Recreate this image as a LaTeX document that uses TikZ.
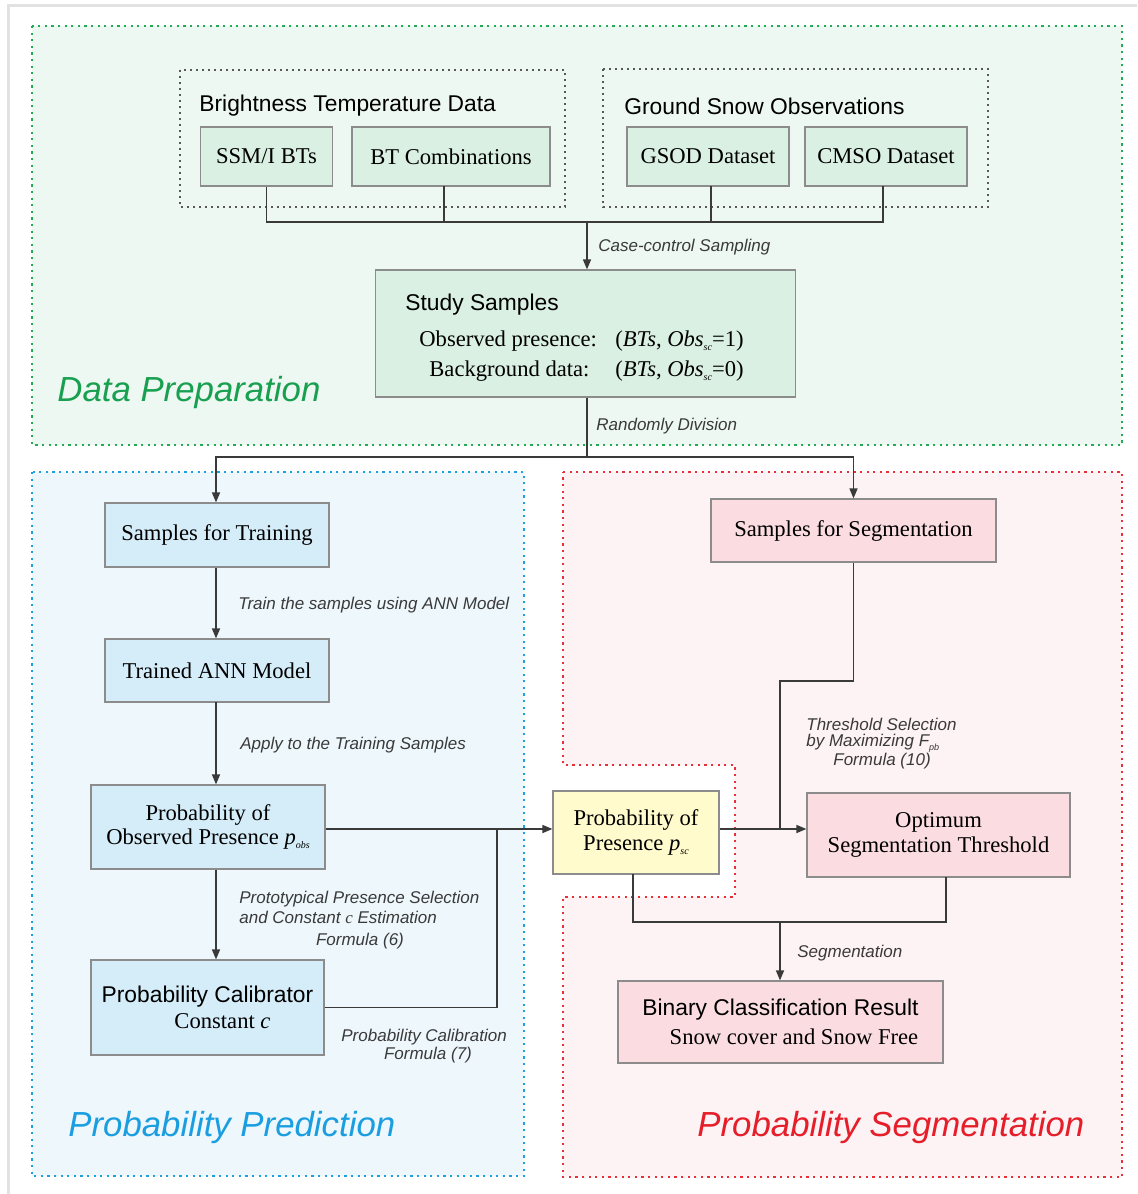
\documentclass[tikz,border=0pt]{standalone}
\usepackage{fontspec}
\setmainfont{Liberation Serif}
\setsansfont{Liberation Sans}
\usetikzlibrary{arrows.meta,calc}
\definecolor{gregion}{HTML}{EEF8F2}
\definecolor{gborder}{HTML}{22AA55}
\definecolor{gbox}{HTML}{DAF0E2}
\definecolor{bregion}{HTML}{EDF7FC}
\definecolor{bborder}{HTML}{1EA0DC}
\definecolor{bbox}{HTML}{D5EDF9}
\definecolor{rregion}{HTML}{FDF2F4}
\definecolor{rborder}{HTML}{E8303A}
\definecolor{rbox}{HTML}{FADCE1}
\definecolor{ybox}{HTML}{FFFBCC}
\definecolor{boxline}{HTML}{8C8C8C}
\definecolor{conncol}{HTML}{3A3A3A}
\definecolor{gtitle}{HTML}{18A050}
\definecolor{btitle}{HTML}{1A9EE0}
\definecolor{rtitle}{HTML}{E51E2A}
\definecolor{frame}{HTML}{E2E2E2}
\newcommand{\subsc}[1]{\raisebox{-2pt}{\fontsize{5}{5}\selectfont\itshape #1}}
\begin{document}
\begin{tikzpicture}[x=0.5pt,y=-0.5pt,
  box/.style={draw=boxline, line width=0.6pt, inner sep=0pt, align=center,
    font=\fontsize{11.3}{12.3}\selectfont},
  greenbox/.style={box, fill=gbox},
  bluebox/.style={box, fill=bbox},
  redbox/.style={box, fill=rbox},
  yellowbox/.style={box, fill=ybox},
  grouptitle/.style={inner sep=0pt, anchor=west, font=\sffamily\fontsize{11.4}{13}\selectfont},
  plain/.style={inner sep=0pt, anchor=west, font=\fontsize{11.3}{13}\selectfont},
  lab/.style={inner sep=0pt, anchor=west, text=conncol, font=\sffamily\itshape\fontsize{8.5}{10}\selectfont},
  region/.style={line width=1pt, dash pattern=on 1.1pt off 2.2pt},
  bigtitle/.style={inner sep=0pt, anchor=west, font=\sffamily\itshape\fontsize{17.4}{20}\selectfont},
  conn/.style={draw=conncol, line width=0.75pt},
  arr/.style={conn, -{Triangle[length=5pt,width=4pt]}},
  grp/.style={draw=black!65, line width=0.8pt, dash pattern=on 1pt off 2pt}
]
\useasboundingbox (0,0) rectangle (1137,1194);
\fill[white] (0,0) rectangle (1137,1194);
% page frame
\draw[frame, line width=1.5pt] (8,1194) -- (8,5) -- (1137,5);

% regions
\draw[region, draw=gborder, fill=gregion] (32,26) rectangle (1122,445);
\draw[region, draw=bborder, fill=bregion] (32,472) rectangle (524,1176);
\draw[region, draw=rborder, fill=rregion] (563,472) -- (1122,472) -- (1122,1177) -- (563,1177) -- (563,897) -- (735,897) -- (735,765) -- (563,765) -- cycle;

% group boxes
\draw[grp] (180,70) rectangle (565,207);
\draw[grp] (603,69) rectangle (988,207);
\node[grouptitle] (btdtitle) at (199,106) {Brightness Temperature Data};
\node[grouptitle] (gsotitle) at (624,106) {Ground Snow Observations};

% data preparation boxes
\node[greenbox, minimum width=66pt, minimum height=29.5pt] (ssmi) at (266.5,156.5) {SSM/I BTs};
\node[greenbox, minimum width=99pt, minimum height=29.5pt] (btc) at (451,156.5) {BT Combinations};
\node[greenbox, minimum width=81pt, minimum height=29.5pt] (gsod) at (708,156.5) {GSOD Dataset};
\node[greenbox, minimum width=81pt, minimum height=29.5pt] (cmso) at (886,156.5) {CMSO Dataset};
\node[greenbox, minimum width=210pt, minimum height=63.5pt] (study) at (585.5,333.5) {};
\node[grouptitle] (studyt) at (405,305) {Study Samples};
\node[plain] (obsp) at (419,341) {Observed presence:};
\node[plain] (obsv) at (615,341) {(\textit{BTs}, \textit{Obs}\subsc{sc}=1)};
\node[plain] (bgd) at (429,371) {Background data:};
\node[plain] (bgv) at (615,371) {(\textit{BTs}, \textit{Obs}\subsc{sc}=0)};
\node[bigtitle, text=gtitle] (dptitle) at (57,392) {Data Preparation};

\coordinate (jc) at (587,222);
\coordinate (btcb) at (444,186);
\coordinate (gsodb) at (711,186);
\coordinate (cmsob) at (883,186);
\draw[conn] (ssmi.south) -- (ssmi.south |- jc) -- (cmsob |- jc) -- (cmsob);
\draw[conn] (btcb) -- (btcb |- jc);
\draw[conn] (gsodb) -- (gsodb |- jc);
\draw[arr] (jc) -- (jc |- study.north);
\node[lab] (lcase) at (598,247) {Case-control Sampling};

\coordinate (jd) at (587,457);
\draw[conn] (jd |- study.south) -- (jd);
\node[lab] (lrand) at (596,426) {Randomly Division};

% probability prediction
\node[bluebox, minimum width=112pt, minimum height=32pt] (train) at (217,535) {Samples for Training};
\node[bluebox, minimum width=112pt, minimum height=31.5pt] (ann) at (217,670.5) {Trained ANN Model};
\node[bluebox, minimum width=117pt, minimum height=42pt] (pobs) at (208,827) {Probability of\\Observed Presence \textit{p}\subsc{obs}};
\node[bluebox, minimum width=116.5pt, minimum height=47.5pt] (calib) at (207.5,1007.5) {{\sffamily\fontsize{11.4}{13}\selectfont Probability Calibrator}\\[1pt]\hspace*{15pt}Constant \textit{c}};
\node[bigtitle, text=btitle] (pptitle) at (68,1127) {Probability Prediction};

\draw[arr] (jd) -| ([xshift=-0.5pt]train.north);
\draw[arr] ([xshift=-0.5pt]train.south) -- ([xshift=-0.5pt]ann.north);
\coordinate (annb) at (216,702);
\draw[arr] (annb) -- (annb |- pobs.north);
\draw[arr] (annb |- pobs.south) -- (annb |- calib.north);
\node[lab] (ltrain) at (238,605) {Train the samples using ANN Model};
\node[lab] (lapply) at (240,745) {Apply to the Training Samples};
\node[lab] (lproto1) at (239,899) {Prototypical Presence Selection};
\node[lab] (lproto2) at (239,917) {and Constant {\rmfamily\itshape c} Estimation};
\node[lab, anchor=center] (lproto3) at (360,941) {Formula (6)};
\node[lab] (lcal1) at (341,1037) {Probability Calibration};
\node[lab, anchor=center] (lcal2) at (428,1055) {Formula (7)};

% probability segmentation
\node[yellowbox, minimum width=83pt, minimum height=41.5pt] (psc) at (636,832.5) {Probability of\\Presence \textit{p}\subsc{sc}};
\node[redbox, minimum width=142.5pt, minimum height=31.5pt] (seg) at (853.5,530.5) {Samples for Segmentation};
\node[redbox, minimum width=131.5pt, minimum height=42pt] (opt) at (938.5,835) {Optimum\\Segmentation Threshold};
\node[redbox, minimum width=162.5pt, minimum height=41pt] (binary) at (780.5,1022) {{\sffamily\fontsize{11.4}{13}\selectfont Binary Classification Result}\\[2pt]\hspace*{13.5pt}Snow cover and Snow Free};
\node[bigtitle, text=rtitle] (pstitle) at (697,1127) {Probability Segmentation};

\draw[arr] (jd) -| (seg.north);

\coordinate (jm) at (497,829);
\draw[arr] (pobs.east |- jm) -- (psc.west |- jm);
\draw[conn] (calib.east) -| (jm);

\coordinate (jt) at (780,829);
\coordinate (ts) at (780,681);
\draw[arr] (psc.east |- jt) -- (opt.west |- jt);
\draw[conn] (seg.south) |- (ts) -- (jt);
\node[lab] (lth1) at (806,724) {Threshold Selection};
\node[lab] (lth2) at (806,743) {by Maximizing \textit{F}\raisebox{-2pt}{\fontsize{4.5}{5}\selectfont pb}};
\node[lab] (lth3) at (833,761) {Formula (10)};

\coordinate (pscb) at (633,874);
\coordinate (optb) at (946,877);
\coordinate (jb) at (780,922);
\draw[conn] (pscb) |- (jb) -| (optb);
\draw[arr] (jb) -- (jb |- binary.north);
\node[lab] (lseg) at (797,953) {Segmentation};
\end{tikzpicture}
\end{document}
